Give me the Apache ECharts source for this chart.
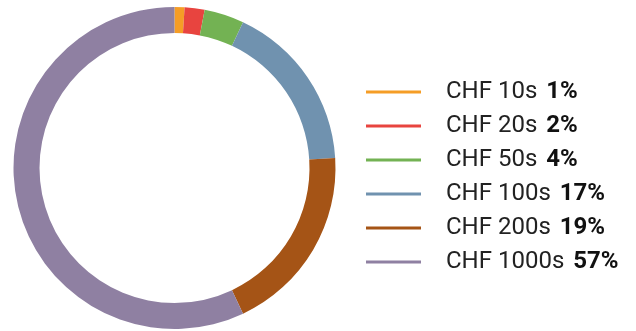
<!DOCTYPE html>
<html>
<head>
<meta charset="utf-8">
<script src="https://cdn.jsdelivr.net/npm/echarts@6/dist/echarts.min.js"></script>
<style>
  html, body { margin: 0; padding: 0; background: #fff; }
  #chart { width: 636px; height: 331px; }
</style>
</head>
<body>
<div id="chart"></div>
<script>
// Banknote denominations and their share of value (%)
const denominations = ['CHF 10s', 'CHF 20s', 'CHF 50s', 'CHF 100s', 'CHF 200s', 'CHF 1000s'];
const shares = [1, 2, 4, 17, 19, 57];
const colors = ['#F59D26', '#E8443F', '#73B253', '#7092AF', '#A55416', '#8F80A2'];

const chart = echarts.init(document.getElementById('chart'), null, { renderer: 'canvas' });

const pieData = denominations.map((name, i) => ({
  name: name,
  value: shares[i],
  itemStyle: { color: colors[i] }
}));

chart.setOption({
  animation: false,
  color: colors,
  legend: {
    orient: 'vertical',
    left: 366,
    top: 80,
    padding: 0,
    itemWidth: 55,
    itemHeight: 3,
    itemGap: 10,
    icon: 'rect',
    selectedMode: false,
    data: denominations,
    formatter: function (name) {
      const i = denominations.indexOf(name);
      return '{n|' + name + '} {b|' + shares[i] + '%}';
    },
    textStyle: {
      padding: [0, 0, 0, 20],
      fontFamily: 'Roboto',
      fontSize: 24,
      rich: {
        n: { fontFamily: 'Roboto', fontWeight: 'normal', fontSize: 24, color: '#222' },
        b: { fontFamily: 'Roboto', fontWeight: 'bold', fontSize: 24, color: '#111', padding: [0, 0, 0, 3] }
      }
    }
  },
  series: [{
    type: 'pie',
    center: [174.5, 168],
    radius: [135, 161],
    startAngle: 90,
    clockwise: true,
    label: { show: false },
    labelLine: { show: false },
    emphasis: { disabled: true },
    itemStyle: { borderWidth: 0 },
    data: pieData
  }]
});
</script>
</body>
</html>
